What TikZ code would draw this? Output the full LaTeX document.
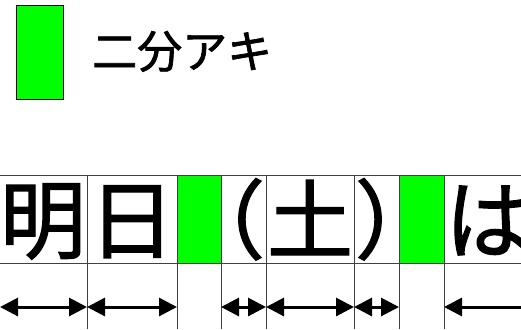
\documentclass[tikz,border=0pt]{standalone}
\usepackage{fontspec}
\newfontfamily\jpfont[FakeBold=1.5]{Noto Sans CJK JP}
\usetikzlibrary{arrows.meta}

\begin{document}
\begin{tikzpicture}[x=1pt, y=-1pt]
    \tikzstyle{gap} = [fill=green]
    \tikzstyle{rule} = [draw=black!75, line width=1pt]
    \tikzstyle{glyph} = [anchor=base, inner sep=0pt, font=\jpfont\fontsize{86}{86}\selectfont]
    \tikzstyle{dim} = [{Triangle[length=18pt, width=18pt]}-{Triangle[length=18pt, width=18pt]}, line width=3pt]
    \clip (0,0) rectangle (521,329);
    % legend
    \node [gap, draw, line width=0.8pt, minimum width=47pt, minimum height=94pt, anchor=north west] at (16,5) (key) {};
    \node [anchor=base west, inner sep=0pt, font=\jpfont\fontsize{45}{45}\selectfont] at (92,68) (keytext) {二分アキ};
    % half-width spaces
    \fill [gap] (177,175) rectangle (221,263);
    \fill [gap] (399,175) rectangle (444,263);
    % grid
    \draw [rule] (0,175) -- (521,175);
    \draw [rule] (0,263) -- (521,263);
    \foreach \x in {87,177,221,266,354,399,444}
        \draw [rule] (\x,175) -- (\x,329);
    % text
    \foreach \x/\c in {43/明, 132/日, 222/（, 310/土, 398/）, 488/は}
        \node [glyph] at (\x,252) (ch\x) {\c};
    % widths
    \foreach \x in {0,87,177,221,266,354,399,444,540}
        \coordinate (w\x) at (\x,307);
    \foreach \a/\b in {0/87, 87/177, 221/266, 266/354, 354/399, 444/540}
        \draw [dim] (w\a) -- (w\b);
\end{tikzpicture}
\end{document}
